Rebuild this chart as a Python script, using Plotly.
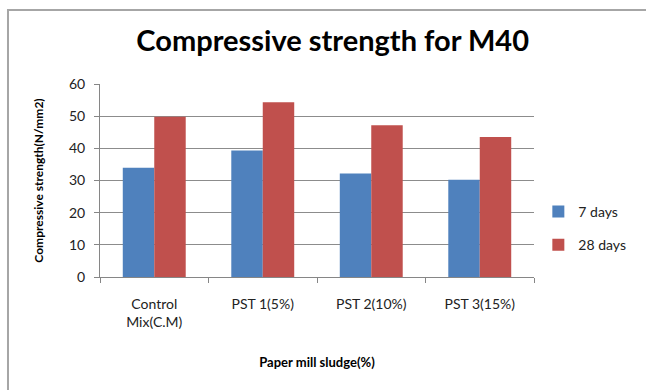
import plotly.graph_objects as go

# Mix designations on the x axis
mixes = ["Control<br>Mix(C.M)", "PST 1(5%)", "PST 2(10%)", "PST 3(15%)"]

# Compressive strength (N/mm2) at each curing age
strength_7_days = [34.0, 39.3, 32.2, 30.2]
strength_28_days = [49.8, 54.3, 47.2, 43.5]

y_ticks = [0, 10, 20, 30, 40, 50, 60]

FONT = "Lato, 'Open Sans', sans-serif"

fig = go.Figure()
fig.add_trace(go.Bar(
    x=mixes, y=strength_7_days, name="7 days",
    marker=dict(color="#4F81BD", line=dict(width=0)),
    legendgroup="a",
))
fig.add_trace(go.Bar(
    x=mixes, y=strength_28_days, name="28 days",
    marker=dict(color="#C0504D", line=dict(width=0)),
    legendgroup="b",
))

# chart frame: only its top and left edges fall inside the page
fig.add_shape(type="rect", xref="paper", yref="paper",
              x0=-0.212, x1=1.45, y0=-0.75, y1=1.383,
              line=dict(color="#A6A6A6", width=2), layer="below")

fig.update_layout(
    width=646, height=390,
    margin=dict(l=100, r=112, t=84, b=113, autoexpand=False),
    paper_bgcolor="white", plot_bgcolor="white",
    barmode="group", bargap=0.42, bargroupgap=0,
    font=dict(family=FONT, color="#222222", size=13),
    title=dict(
        text="<b>Compressive strength for M40</b>",
        font=dict(family=FONT, size=29, color="#000000"),
        x=0.515, xanchor="center", y=0.895, yanchor="middle",
    ),
    xaxis=dict(
        showline=True, linecolor="#868686", linewidth=1,
        ticks="outside", tickson="boundaries", ticklen=5, tickcolor="#868686",
        tickfont=dict(size=14, color="#222222"),
        ticklabelstandoff=14,
        title=dict(text="<b>Paper mill sludge(%)</b>", font=dict(size=13, color="#000000"),
                   standoff=28),
    ),
    yaxis=dict(
        range=[0, 60], tickvals=y_ticks,
        showgrid=True, gridcolor="#8C8C8C", gridwidth=1,
        showline=True, linecolor="#868686", linewidth=1,
        ticks="outside", ticklen=5, tickcolor="#868686",
        tickfont=dict(size=14, color="#222222"),
        ticklabelstandoff=6,
        zeroline=False,
        title=dict(text="<b>Compressive strength(N/mm2)</b>", font=dict(size=12, color="#000000"),
                   standoff=22),
    ),
    legend=dict(
        x=1.01, xanchor="left", y=0.42, yanchor="top",
        font=dict(size=14, color="#222222"),
        tracegroupgap=12, itemwidth=30,
        bgcolor="rgba(0,0,0,0)",
    ),
)

fig.write_html("out.html", config={"displayModeBar": False})
